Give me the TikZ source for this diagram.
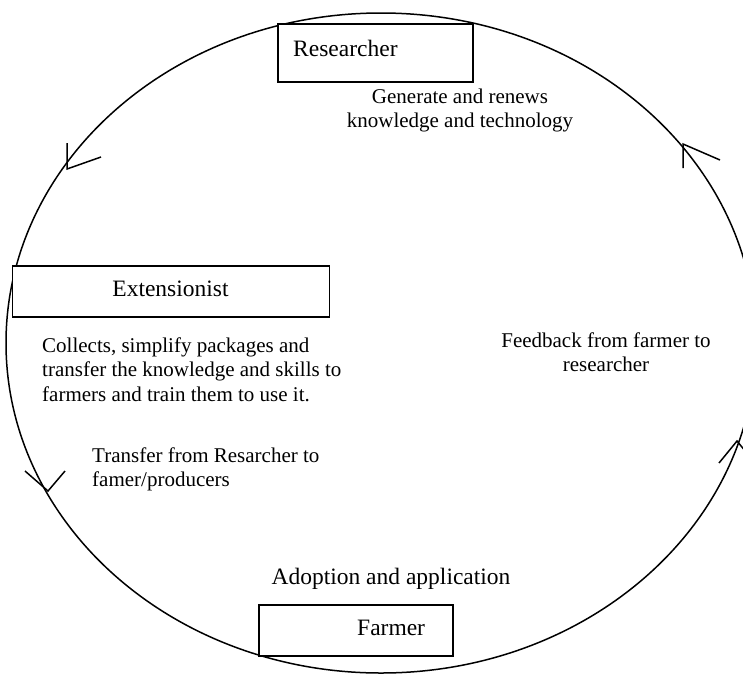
\documentclass[tikz,border=0pt]{standalone}
\usepackage{fontspec}
\setmainfont{Liberation Serif}
\begin{document}
\begin{tikzpicture}[x=1pt,y=-1pt,
  boxst/.style={draw, line width=1.5pt, fill=white, rectangle, inner sep=0pt, anchor=north west},
  lbl/.style={inner sep=0pt, font=\fontsize{23.5}{27}\selectfont},
  txt/.style={inner sep=0pt, font=\fontsize{21}{24.5}\selectfont},
  ring/.style={line width=1.5pt},
  tipst/.style={line width=1.5pt, line join=miter}]
\useasboundingbox (0,0) rectangle (743,675);
\clip (0,0) rectangle (743,675);
% cycle
\draw[ring] (381,343) ellipse [x radius=375, y radius=330];
% arrowheads on the cycle
\draw[tipst] (67,143) -- (67,169) -- (101,157);
\draw[tipst] (683,168) -- (683,144) -- (720,160);
\draw[tipst] (25,471) -- (48,491) -- (65,471);
\draw[tipst] (719,463) -- (737,441) -- (755,463);
% boxes
\node[boxst, minimum width=195, minimum height=58] (res) at (277,23) {};
\node[boxst, minimum width=317, minimum height=51] (ext) at (11.7,265) {};
\node[boxst, minimum width=194, minimum height=51] (farm) at (258,604) {};
% box labels
\node[lbl, anchor=base west] (restxt) at (293,56) {Researcher};
\node[lbl, anchor=base] (exttxt) at (170.5,296.5) {Extensionist};
\node[lbl, anchor=base west] (farmtxt) at (357,635.5) {Farmer};
\node[lbl, anchor=base] (adopt) at (391,584) {Adoption and application};
% descriptions
\node[txt, align=center, anchor=north] (gen) at (460,85.9) {\strut Generate and renews\\knowledge and technology};
\node[txt, align=left, anchor=north west] (coll) at (42,334.9) {\strut Collects, simplify packages and\\transfer the knowledge and skills to\\farmers and train them to use it.};
\node[txt, align=left, anchor=north west] (trans) at (92,444.9) {\strut Transfer from Resarcher to\\famer/producers};
\node[txt, align=center, anchor=north] (feed) at (606,329.9) {\strut Feedback from farmer to\\researcher};
\end{tikzpicture}
\end{document}
